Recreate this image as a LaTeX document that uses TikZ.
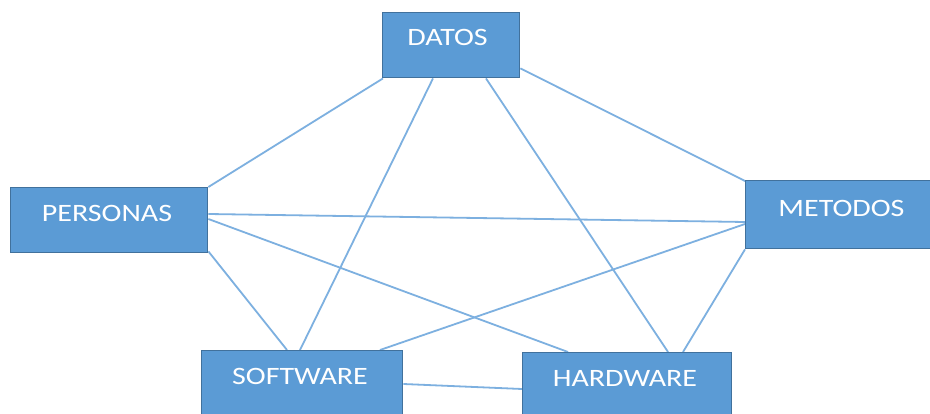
\documentclass[tikz,border=0pt]{standalone}
\usepackage{fontspec}
\setmainfont{Carlito}
\usetikzlibrary{calc,backgrounds}
\definecolor{boxfill}{HTML}{5B9BD5}
\definecolor{boxline}{HTML}{41719C}
\definecolor{linkc}{HTML}{7DB0E0}
\tikzset{
  box/.style={draw=boxline, line width=1.4pt, fill=boxfill, rectangle, inner sep=0pt, anchor=north west},
  lbl/.style={text=white, inner sep=0pt, font=\fontsize{25}{27}\selectfont},
  link/.style={draw=linkc, line width=1.8pt}
}
\newcommand{\wide}[1]{\scalebox{1.2}[1]{#1}}
\begin{document}
\begin{tikzpicture}[x=1pt,y=-1pt]
\useasboundingbox (0,0) rectangle (930,414);
\clip (0,0) rectangle (930,414);
\node[box, minimum width=137pt, minimum height=65pt] (datos) at (382,12) {};
\node[box, minimum width=197pt, minimum height=65pt] (personas) at (10,187) {};
\node[box, minimum width=187pt, minimum height=68pt] (metodos) at (745,180) {};
\node[box, minimum width=201pt, minimum height=70pt] (software) at (201,350) {};
\node[box, minimum width=209pt, minimum height=68pt] (hardware) at (522,352) {};
\node[lbl] (tdatos) at (447.5,37) {\wide{DATOS}};
\node[lbl] (tpersonas) at (107,213.5) {\wide{PERSONAS}};
\node[lbl] (tmetodos) at (841.5,208) {\wide{METODOS}};
\node[lbl] (tsoftware) at (300,376) {\wide{SOFTWARE}};
\node[lbl] (thardware) at (625,378) {\wide{HARDWARE}};
\begin{pgfonlayer}{background}
\fill[white] (0,0) rectangle (930,414);
\draw[link] ($(datos.south west)+(1,0)$) -- (personas.north east);
\draw[link] ($(datos.south west)+(51,0)$) -- ($(software.north west)+(99,0)$);
\draw[link] ($(datos.south west)+(104,0)$) -- ($(hardware.north west)+(146,0)$);
\draw[link] ($(datos.south east)+(0,-10)$) -- ($(metodos.north west)+(0,1)$);
\draw[link] ($(personas.north east)+(0,27)$) -- ($(metodos.north west)+(0,42)$);
\draw[link] ($(personas.north east)+(0,32)$) -- ($(hardware.north west)+(46,0)$);
\draw[link] ($(personas.south east)+(0,-2)$) -- ($(software.north west)+(86,0)$);
\draw[link] ($(metodos.north west)+(0,44)$) -- ($(software.north west)+(179,0)$);
\draw[link] (metodos.south west) -- ($(hardware.north west)+(161,0)$);
\draw[link] ($(software.north east)+(0,34)$) -- ($(hardware.north west)+(0,37)$);
\end{pgfonlayer}
\end{tikzpicture}
\end{document}
